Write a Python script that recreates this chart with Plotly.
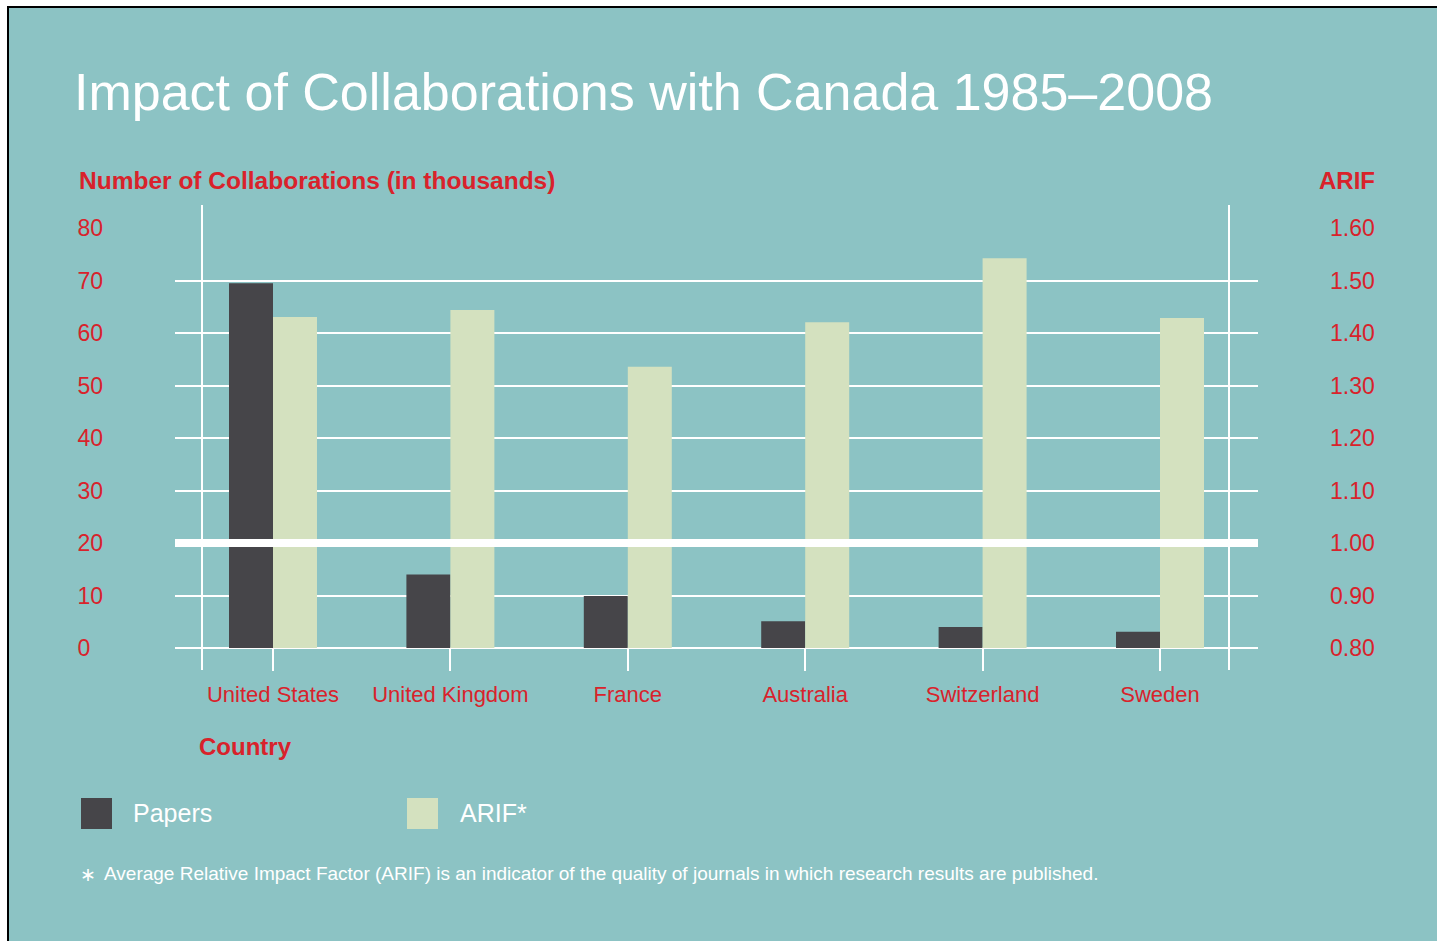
import plotly.graph_objects as go

# ---- data ----
countries = ["United States", "United Kingdom", "France", "Australia", "Switzerland", "Sweden"]
papers = [69.5, 14.0, 9.9, 5.1, 4.0, 3.1]          # thousands
arif = [1.431, 1.444, 1.336, 1.421, 1.543, 1.429]
left_ticks = [0, 10, 20, 30, 40, 50, 60, 70, 80]
right_ticks = [0.80, 0.90, 1.00, 1.10, 1.20, 1.30, 1.40, 1.50, 1.60]

# ---- style ----
BG = "#8CC3C4"
RED = "#D9222B"
DARK = "#464549"
LIGHT = "#D4E1BF"
WHITE = "#FFFFFF"
FONT = "Liberation Sans, Arial, Helvetica, sans-serif"

FW, FH = 1437, 941                 # figure size
L, R, T, B = 175, 1258, 228, 648   # plot area in pixels
W, H = R - L, B - T


def px(x):
    return (x - L) / W


def py(y):
    return (B - y) / H


BW = 0.248  # bar width in category units
YTOP = 80.05
Y2TOP = 0.8 + YTOP / 100.0

fig = go.Figure()
fig.add_trace(go.Bar(x=countries, y=papers, name="Papers", marker=dict(color=DARK, line=dict(width=0)),
                     width=BW, offset=-BW, yaxis="y"))
fig.add_trace(go.Bar(x=countries, y=[a - 0.8 for a in arif], base=0.8, name="ARIF*",
                     marker=dict(color=LIGHT, line=dict(width=0)), width=BW, offset=0, yaxis="y2"))

shapes = [
    # page background with black edge
    dict(type="rect", xref="paper", yref="paper", x0=px(8), x1=px(1460), y0=py(970), y1=py(7),
         fillcolor=BG, line=dict(color="#000000", width=2), layer="below"),
    # vertical frame lines
    dict(type="line", xref="paper", yref="paper", x0=px(202), x1=px(202), y0=py(670), y1=py(205),
         line=dict(color=WHITE, width=2), layer="below"),
    dict(type="line", xref="paper", yref="paper", x0=px(1229), x1=px(1229), y0=py(670), y1=py(205),
         line=dict(color=WHITE, width=2), layer="below"),
    # thick reference line (ARIF = 1.00)
    dict(type="line", xref="paper", yref="y2", x0=0, x1=1, y0=1.0, y1=1.0,
         line=dict(color=WHITE, width=8), layer="above"),
    # legend boxes
    dict(type="rect", xref="paper", yref="paper", x0=px(81), x1=px(112), y0=py(829), y1=py(798),
         fillcolor=DARK, line=dict(width=0)),
    dict(type="rect", xref="paper", yref="paper", x0=px(407), x1=px(438), y0=py(829), y1=py(798),
         fillcolor=LIGHT, line=dict(width=0)),
]

annotations = [
    dict(text="Number of Collaborations (in thousands)", xref="paper", yref="paper", x=px(77), y=py(181),
         xanchor="left", yanchor="middle", showarrow=False, font=dict(family=FONT, size=24.5, color=RED, weight="bold")),
    dict(text="ARIF", xref="paper", yref="paper", x=px(1377), y=py(181),
         xanchor="right", yanchor="middle", showarrow=False, font=dict(family=FONT, size=24, color=RED, weight="bold")),
    dict(text="Country", xref="paper", yref="paper", x=px(197), y=py(746),
         xanchor="left", yanchor="middle", showarrow=False, font=dict(family=FONT, size=24, color=RED, weight="bold")),
    dict(text="Papers", xref="paper", yref="paper", x=px(131), y=py(813),
         xanchor="left", yanchor="middle", showarrow=False, font=dict(family=FONT, size=25, color=WHITE)),
    dict(text="ARIF*", xref="paper", yref="paper", x=px(458), y=py(813),
         xanchor="left", yanchor="middle", showarrow=False, font=dict(family=FONT, size=25, color=WHITE)),
    dict(text="\u2217", xref="paper", yref="paper", x=px(78), y=py(874),
         xanchor="left", yanchor="middle", showarrow=False, font=dict(family=FONT, size=19, color=WHITE)),
    dict(text="Average Relative Impact Factor (ARIF) is an indicator of the quality of journals in which research results are published.",
         xref="paper", yref="paper", x=px(102), y=py(873),
         xanchor="left", yanchor="middle", showarrow=False, font=dict(family=FONT, size=19, color=WHITE)),
]

fig.update_layout(
    width=FW, height=FH,
    margin=dict(l=L, r=FW - R, t=T, b=FH - B, pad=0),
    paper_bgcolor=WHITE,
    plot_bgcolor="rgba(0,0,0,0)",
    showlegend=False,
    barmode="overlay",
    title=dict(text="Impact of Collaborations with Canada 1985\u20132008", xref="container", yref="container",
               x=74 / FW, y=1 - 92 / FH, xanchor="left", yanchor="middle",
               font=dict(family=FONT, size=52, color=WHITE)),
    xaxis=dict(
        type="category", range=[-0.5524, 5.5524], showgrid=False, zeroline=False, showline=False,
        ticks="outside", ticklen=22, tickwidth=2, tickcolor=WHITE,
        tickfont=dict(family=FONT, size=22, color=RED), ticklabelstandoff=5,
    ),
    yaxis=dict(
        range=[0, YTOP], tickvals=left_ticks, ticktext=[f"{v}" + ("\u2007" if v < 10 else "") for v in left_ticks],
        showgrid=True, gridcolor=WHITE, gridwidth=2, zeroline=True, zerolinecolor=WHITE, zerolinewidth=2,
        showline=False, ticks="", tickfont=dict(family=FONT, size=23, color=RED), ticklabelstandoff=71,
    ),
    yaxis2=dict(
        range=[0.8, Y2TOP], overlaying="y", side="right", tickvals=right_ticks,
        ticktext=[f"{v:.2f}" for v in right_ticks], showgrid=False, zeroline=False, showline=False, ticks="",
        tickfont=dict(family=FONT, size=23, color=RED), ticklabelstandoff=71,
    ),
    shapes=shapes,
    annotations=annotations,
)

fig.write_html("out.html", config={"displayModeBar": False},
               post_script="document.body.style.margin='0';document.documentElement.style.overflow='hidden';")
